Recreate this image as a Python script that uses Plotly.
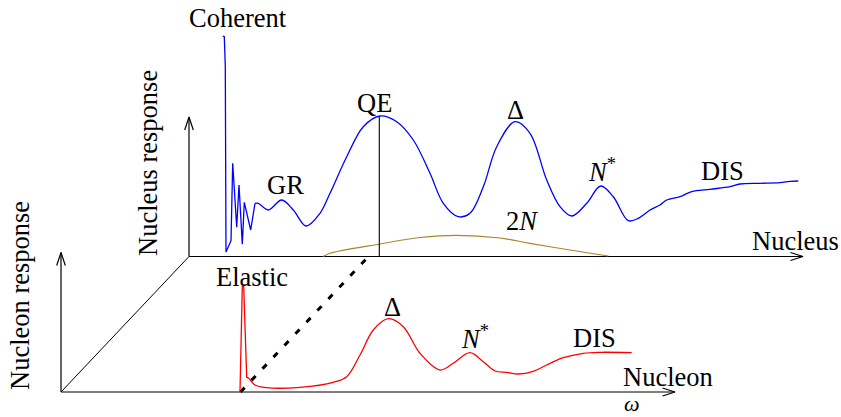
import plotly.graph_objects as go

# ---------------- data (omega, response), nucleon frame units ----------------
# perspective offset of the nucleus frame relative to the nucleon frame
DEPTH = (128, 135.5)
AXIS_LEN = 614          # omega axis length
RESP_LEN = 139.5        # response axis height

# Nucleus response (in nucleus-frame units)
nuc_coh_omega = [33.7, 35.3, 36.3, 37.0, 42.0, 43.7, 47.7, 50.0, 53.3, 55.3, 61.7, 66.0]
nuc_coh_resp  = [220.5, 219.8, 189.8, 4.5, 15.8, 93.2, 29.2, 71.5, 12.2, 54.2, 26.5, 53.2]

nuc_omega = [66.0, 69.3, 79.3, 92.7, 104.3, 117.0, 131.0, 141.0, 157.7, 174.3, 191.0, 207.7,
             224.3, 241.0, 254.3, 269.3, 281.0, 294.3, 307.7, 326.0, 341.0, 357.7, 371.0,
             382.7, 397.7, 411.7, 424.3, 439.3, 449.3, 461.0, 471.0, 477.7, 491.0, 502.7,
             521.0, 541.0, 551.0, 571.0, 591.0, 601.0, 609.3]
nuc_resp  = [53.2, 53.2, 46.5, 56.5, 46.5, 30.5, 43.2, 63.2, 99.8, 129.8, 140.5, 134.8,
             116.5, 83.2, 53.2, 39.8, 43.2, 69.8, 109.8, 134.8, 123.2, 76.5, 49.8,
             40.5, 53.2, 70.5, 59.8, 35.8, 38.2, 46.5, 51.5, 56.5, 59.8, 64.8,
             67.2, 69.8, 72.5, 73.2, 73.8, 75.2, 75.5]

twoN_omega = [134, 141, 191, 231, 267.7, 311, 341, 381, 419.3]
twoN_resp  = [0, 3.2, 12.5, 19, 21.2, 18.5, 13.2, 6.5, 0.5]

QE_OMEGA = 190.3
QE_PEAK = 140.5
ELASTIC_OMEGA = 179.5

# Nucleon response (nucleon-frame units)
el_omega = [179.0, 181.3, 182.7, 185.7, 188.3]
el_resp  = [0.3, 105.3, 105.3, 14.7, 13.7]

nucl_omega = [188.3, 194.0, 205.7, 239.0, 272.3, 285.7, 299.0, 312.3, 327.3, 342.3, 359.0,
              379.0, 392.3, 409.0, 422.3, 434.0, 445.7, 457.3, 472.3, 485.7, 502.3, 522.3,
              539.0, 570.7]
nucl_resp  = [13.7, 7.0, 4.3, 4.7, 9.7, 15.3, 37.0, 62.0, 73.3, 65.3, 38.7,
              22.0, 28.7, 39.3, 30.3, 21.0, 19.7, 18.0, 20.7, 27.0, 34.3, 38.7,
              39.7, 39.3]

# labels: (text, omega, response, angle, font size)
labels = [
    ("Coherent", 177, 374, 0, 26.5),
    ("GR", 224, 207, 0, 26.5),
    ("QE", 313, 289, 0, 26.5),
    ("Δ", 454, 282, 0, 26.5),
    ("<i>N</i><sup>*</sup>", 541, 222, 0, 26.5),
    ("DIS", 661.7, 221, 0, 26.5),
    ("2<i>N</i>", 460.7, 171.3, 0, 26.5),
    ("Nucleus", 734, 151, 0, 26.5),
    ("Nucleus response", 87, 229, -90, 26.5),
    ("Elastic", 190.5, 115, 0, 26.5),
    ("Δ", 331, 85, 0, 26.5),
    ("<i>N</i><sup>*</sup>", 414, 55, 0, 26.5),
    ("DIS", 533, 54, 0, 26.5),
    ("Nucleon", 607, 15, 0, 26.5),
    ("<i>ω</i>", 571, -11, 0, 22),
    ("Nucleon response", -41, 96, -90, 26.5),
]

BLUE = "#0000FF"
RED = "#FF0000"
GOLD = "#A8862A"

def up(xs, ys):
    return [x + DEPTH[0] for x in xs], [y + DEPTH[1] for y in ys]

fig = go.Figure()

def line(xs, ys, color="black", width=1.2, shape="linear", dash=None):
    fig.add_trace(go.Scatter(x=xs, y=ys, mode="lines",
                             line=dict(color=color, width=width, shape=shape, dash=dash),
                             hoverinfo="skip", showlegend=False))

def axes_frame(ox, oy):
    # horizontal axis + open arrowhead
    line([ox, ox + AXIS_LEN], [oy, oy])
    line([ox + AXIS_LEN - 12.5, ox + AXIS_LEN, ox + AXIS_LEN - 12.5],
         [oy + 4, oy, oy - 4])
    # vertical axis + open arrowhead
    line([ox, ox], [oy, oy + RESP_LEN])
    line([ox - 4.3, ox, ox + 4.3],
         [oy + RESP_LEN - 13, oy + RESP_LEN, oy + RESP_LEN - 13])

axes_frame(0, 0)
axes_frame(DEPTH[0], DEPTH[1])
# depth line connecting the two origins
line([0, DEPTH[0]], [0, DEPTH[1]], width=1.0)

# 2N curve
x, y = up(twoN_omega, twoN_resp)
line(x, y, color=GOLD, width=1.2, shape="spline")

# QE marker line
x, y = up([QE_OMEGA, QE_OMEGA], [0, QE_PEAK])
line(x, y, width=1.1)

# nucleus response
x, y = up(nuc_coh_omega, nuc_coh_resp)
line(x, y, color=BLUE, width=1.3)
x, y = up(nuc_omega, nuc_resp)
line(x, y, color=BLUE, width=1.3, shape="spline")

# dashed projection of the elastic peak
line([ELASTIC_OMEGA, ELASTIC_OMEGA + DEPTH[0]], [0, DEPTH[1]], width=3, dash="6px,10px")

# nucleon response
line(el_omega, el_resp, color=RED, width=1.3)
line(nucl_omega, nucl_resp, color=RED, width=1.3, shape="spline")

for text, xx, yy, ang, fs in labels:
    fig.add_annotation(x=xx, y=yy, text=text, showarrow=False, textangle=ang,
                       xanchor="center", yanchor="middle",
                       font=dict(family="Liberation Serif", size=fs, color="black"))

fig.update_layout(
    width=841, height=417,
    margin=dict(l=0, r=0, t=0, b=0),
    paper_bgcolor="white", plot_bgcolor="white",
    xaxis=dict(range=[-61, 780], visible=False, fixedrange=True),
    yaxis=dict(range=[-25, 392], visible=False, fixedrange=True),
    showlegend=False,
)

fig.write_html("out.html", config={"displayModeBar": False},
               post_script="document.body.style.margin='0';document.body.style.overflow='hidden';")
